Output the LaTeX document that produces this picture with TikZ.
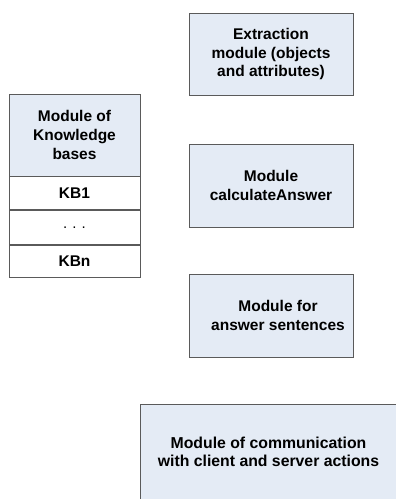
\documentclass[tikz,border=0pt]{standalone}
\usepackage{fontspec}
\setmainfont{Liberation Sans}
\definecolor{boxblue}{HTML}{E4EBF5}
\definecolor{edge}{HTML}{5A5A5A}
\tikzset{
  modbox/.style={draw=edge, line width=0.8pt, fill=boxblue, minimum width=164pt, minimum height=83pt, align=center, inner sep=0pt,
    font=\fontsize{15.5}{18.7}\selectfont\bfseries},
  kbrow/.style={draw=edge, line width=0.8pt, fill=white, minimum width=131pt, inner sep=0pt, align=center,
    font=\fontsize{15.5}{18.7}\selectfont\bfseries},
}
\begin{document}
\begin{tikzpicture}[x=1pt,y=-1pt]
\useasboundingbox (0,0) rectangle (399,499);
\node[modbox, minimum height=82pt] (extr) at (271,54) {Extraction\\module (objects\\and attributes)};
\node[modbox] (calc) at (271,185.5) {Module\\calculateAnswer};
\node[modbox] (answ) at (271,315.5) {\hspace*{14pt}Module for\\\hspace*{14pt}answer sentences};
\node[fill=boxblue, minimum width=255pt, minimum height=94pt, inner sep=0pt, align=center,
  font=\fontsize{15.8}{19.5}\selectfont\bfseries] (comm) at (268.5,452)
  {\raisebox{-2pt}{Module of communication}\\with client and server actions};
\draw[edge, line width=0.8pt] (comm.south west) -- (comm.north west) -- (comm.north east);
\node[kbrow, fill=boxblue, minimum height=82pt] (kbh) at (74.5,135) {Module of\\Knowledge\\bases};
\node[kbrow, minimum height=33pt, anchor=north] (kb1) at (kbh.south) {KB1};
\node[kbrow, minimum height=34pt, anchor=north, font=\fontsize{15}{17}\selectfont] (kbd) at (kb1.south) {.\,\,.\,\,.};
\node[kbrow, minimum height=32pt, anchor=north] (kbn) at (kbd.south) {KBn};
\end{tikzpicture}
\end{document}
